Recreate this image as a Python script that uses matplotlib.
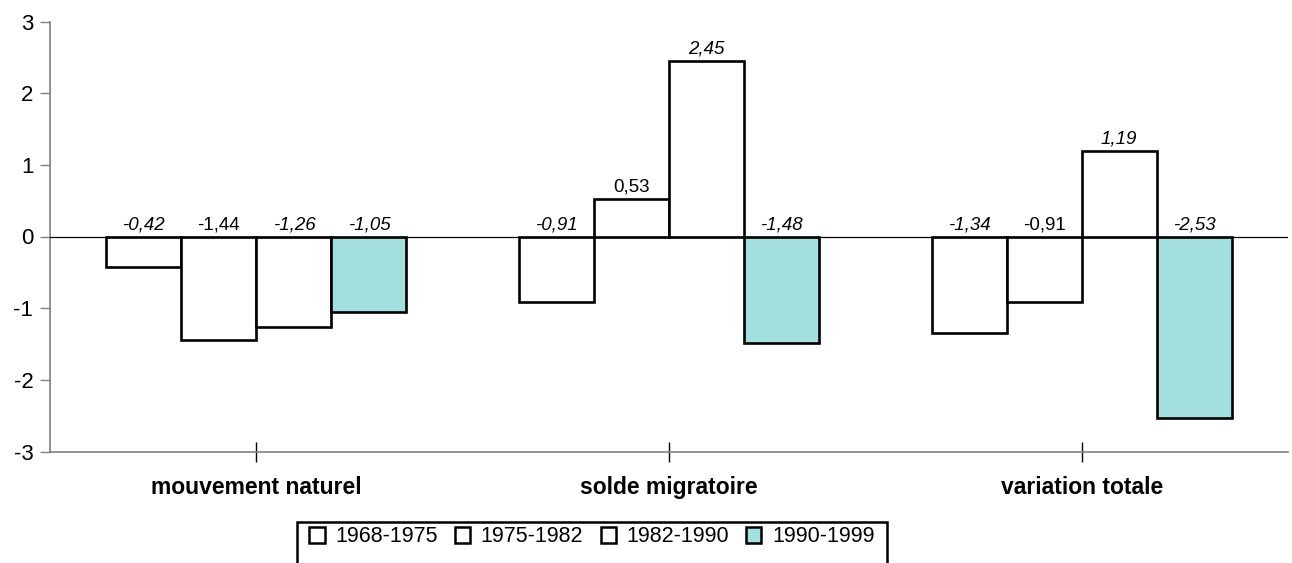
import matplotlib.pyplot as plt
import numpy as np
from matplotlib.patches import Rectangle

plt.rcParams['font.family'] = ['Liberation Sans', 'DejaVu Sans']
plt.rcParams['axes.unicode_minus'] = False

# data
categories = ['mouvement naturel', 'solde migratoire', 'variation totale']
periods = ['1968-1975', '1975-1982', '1982-1990', '1990-1999']
values = [
    [-0.42, -0.91, -1.34],   # 1968-1975
    [-1.44, 0.53, -0.91],    # 1975-1982
    [-1.26, 2.45, 1.19],     # 1982-1990
    [-1.05, -1.48, -2.53],   # 1990-1999
]
label_italic = [True, False, True, True]
colors = ['white', 'white', 'white', '#A4DFDF']

W, H = 1292, 563
fig = plt.figure(figsize=(W / 100, H / 100), dpi=100)
ax = fig.add_axes([50 / W, 1 - 451.5 / H, 1238 / W, 430 / H])

x = np.arange(len(categories))
w = 0.1818
for i, p in enumerate(periods):
    xs = x + (i - 1.5) * w
    ax.bar(xs, values[i], w, color=colors[i], edgecolor='black', linewidth=1.9, label=p, zorder=2)
    # value labels, french decimal comma
    for xx, v in zip(xs, values[i]):
        txt = ('%.2f' % v).replace('.', ',')
        ax.annotate(txt, (xx, max(v, 0)), xytext=(0, 2.5), textcoords='offset points',
                    ha='center', va='bottom', fontsize=13.5,
                    style='italic' if label_italic[i] else 'normal')

ax.axhline(0, color='black', linewidth=0.9, zorder=3)
ax.set_xlim(-0.5, 2.5)
ax.set_ylim(-3, 3)
ax.set_yticks([-3, -2, -1, 0, 1, 2, 3])
ax.tick_params(axis='y', direction='out', length=7, width=1, color='#808080', labelsize=16, pad=5)
ax.set_xticks(x)
ax.set_xticklabels(categories, fontsize=16.5, fontweight='bold')
ax.tick_params(axis='x', direction='inout', length=15, width=1, color='black', pad=10)
for s in ['top', 'right']:
    ax.spines[s].set_visible(False)
for s in ['left', 'bottom']:
    ax.spines[s].set_color('#808080')
    ax.spines[s].set_linewidth(1.2)

# legend, frame drawn by hand so it runs off the bottom edge
leg = fig.legend(loc='center', bbox_to_anchor=(592 / W, 1 - 537 / H), ncol=4, frameon=False,
                 fontsize=15.5, handlelength=0.7, handleheight=0.7, handletextpad=0.5,
                 columnspacing=0.8, borderpad=0.2)
for h in leg.legend_handles:
    h.set_linewidth(1.8)
fig.patches.append(Rectangle((297 / W, -0.1), 590 / W, 0.1 + 1 - 522 / H, transform=fig.transFigure,
                             fill=False, edgecolor='black', linewidth=1.8))

plt.savefig('out.png', dpi=100)
